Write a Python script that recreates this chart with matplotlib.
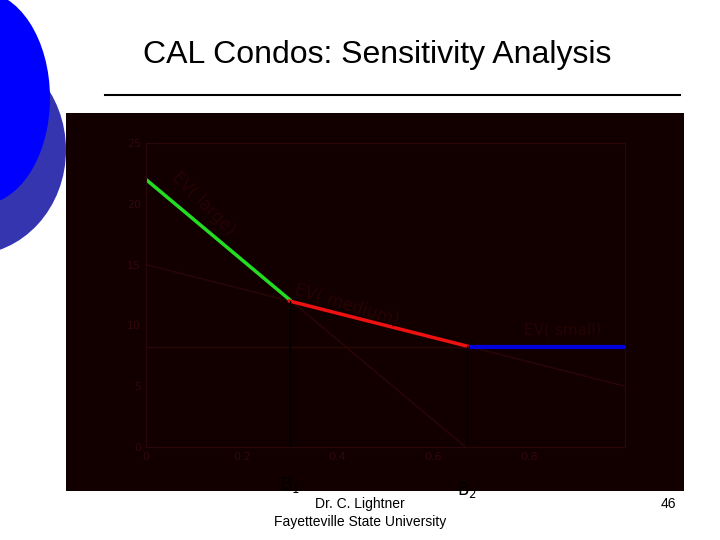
import matplotlib
matplotlib.use("Agg")
import matplotlib.pyplot as plt
from matplotlib.patches import Ellipse, Rectangle

p_large = [0.0, 0.667]
ev_large = [22.0, 0.0]
p_medium = [0.0, 1.0]
ev_medium = [15.0, 5.0]
p_small = [0.0, 1.0]
ev_small = [8.2, 8.2]
b1, b2 = 0.30, 0.67
seg_large_x = [0.0, b1]
seg_medium_x = [b1, b2]
seg_small_x = [b2 + 0.01, 1.0]
xticks = [0, 0.2, 0.4, 0.6, 0.8]
yticks = [0, 5, 10, 15, 20, 25]

def lin(xs, ys, x):
    return ys[0] + (ys[1] - ys[0]) * (x - xs[0]) / (xs[1] - xs[0])

fig = plt.figure(figsize=(7.2, 5.4), dpi=100)
fig.patch.set_facecolor("white")
def ell(cx, cy, rx, ry, color, z):
    fig.add_artist(Ellipse((cx / 720, 1 - cy / 540), 2 * rx / 720, 2 * ry / 540,
                           transform=fig.transFigure, facecolor=color, edgecolor="none", zorder=z))
ell(-30, 150, 96, 105, "#3535b0", -3)
ell(-20, 98, 70, 107, "#0000ff", -2.5)
fig.text(377 / 720, 1 - 55 / 540, "CAL Condos: Sensitivity Analysis", ha="center", va="center",
         fontsize=23, family="Liberation Sans")
fig.add_artist(plt.Line2D([105 / 720, 680 / 720], [1 - 95 / 540] * 2, color="black", lw=1.5,
                          transform=fig.transFigure))
fig.add_artist(Rectangle((66 / 720, 1 - 491 / 540), 618 / 720, 378 / 540, transform=fig.transFigure,
                         facecolor="#120000", edgecolor="none", zorder=-1))

ax = fig.add_axes([146 / 720, 1 - 447 / 540, 479 / 720, 304 / 540])
ax.set_zorder(1)
ax.set_facecolor("none")
dark = "#2a0606"
ax.plot(p_large, ev_large, color=dark, lw=1)
ax.plot(p_medium, ev_medium, color=dark, lw=1)
ax.plot(p_small, ev_small, color=dark, lw=1)
ax.plot(seg_large_x, [lin(p_large, ev_large, x) for x in seg_large_x], color="#22dd22", lw=2.5)
ax.plot(seg_medium_x, [lin(p_medium, ev_medium, x) for x in seg_medium_x], color="#ee1111", lw=2.5)
ax.plot(seg_small_x, ev_small, color="#0000dd", lw=3)
ax.axvline(b1, ymax=lin(p_medium, ev_medium, b1) / 25, color="black", lw=1)
ax.axvline(b2, ymax=lin(p_medium, ev_medium, b2) / 25, color="black", lw=1)
ax.set_xlim(0, 1)
ax.set_ylim(0, 25)
ax.set_xticks(xticks)
ax.set_yticks(yticks)
ax.set_xticklabels([str(t) for t in xticks])
ax.tick_params(colors="#300808", labelsize=8, length=0)
for s in ax.spines.values():
    s.set_color(dark)
ax.text(0.12, 20.0, "EV( large)", color="#260303", fontsize=12, rotation=-45, ha="center", va="center")
ax.text(0.42, 11.7, "EV( medium)", color="#260303", fontsize=12, rotation=-17, ha="center", va="center")
ax.text(0.87, 9.6, "EV( small)", color="#260303", fontsize=11, ha="center", va="center")
ax.text(b1, -3.1, "B$_1$", ha="center", va="center", fontsize=12, color="black")
ax.text(b2, -3.5, "B$_2$", ha="center", va="center", fontsize=12, color="black")

fig.text(360 / 720, 1 - 504 / 540, "Dr. C. Lightner", ha="center", va="center", fontsize=10,
         family="Liberation Sans")
fig.text(360 / 720, 1 - 522 / 540, "Fayetteville State University", ha="center", va="center",
         fontsize=10, family="Liberation Sans")
fig.text(668 / 720, 1 - 504 / 540, "46", ha="center", va="center", fontsize=10, family="Liberation Sans")
fig.savefig("out.png", dpi=100)
